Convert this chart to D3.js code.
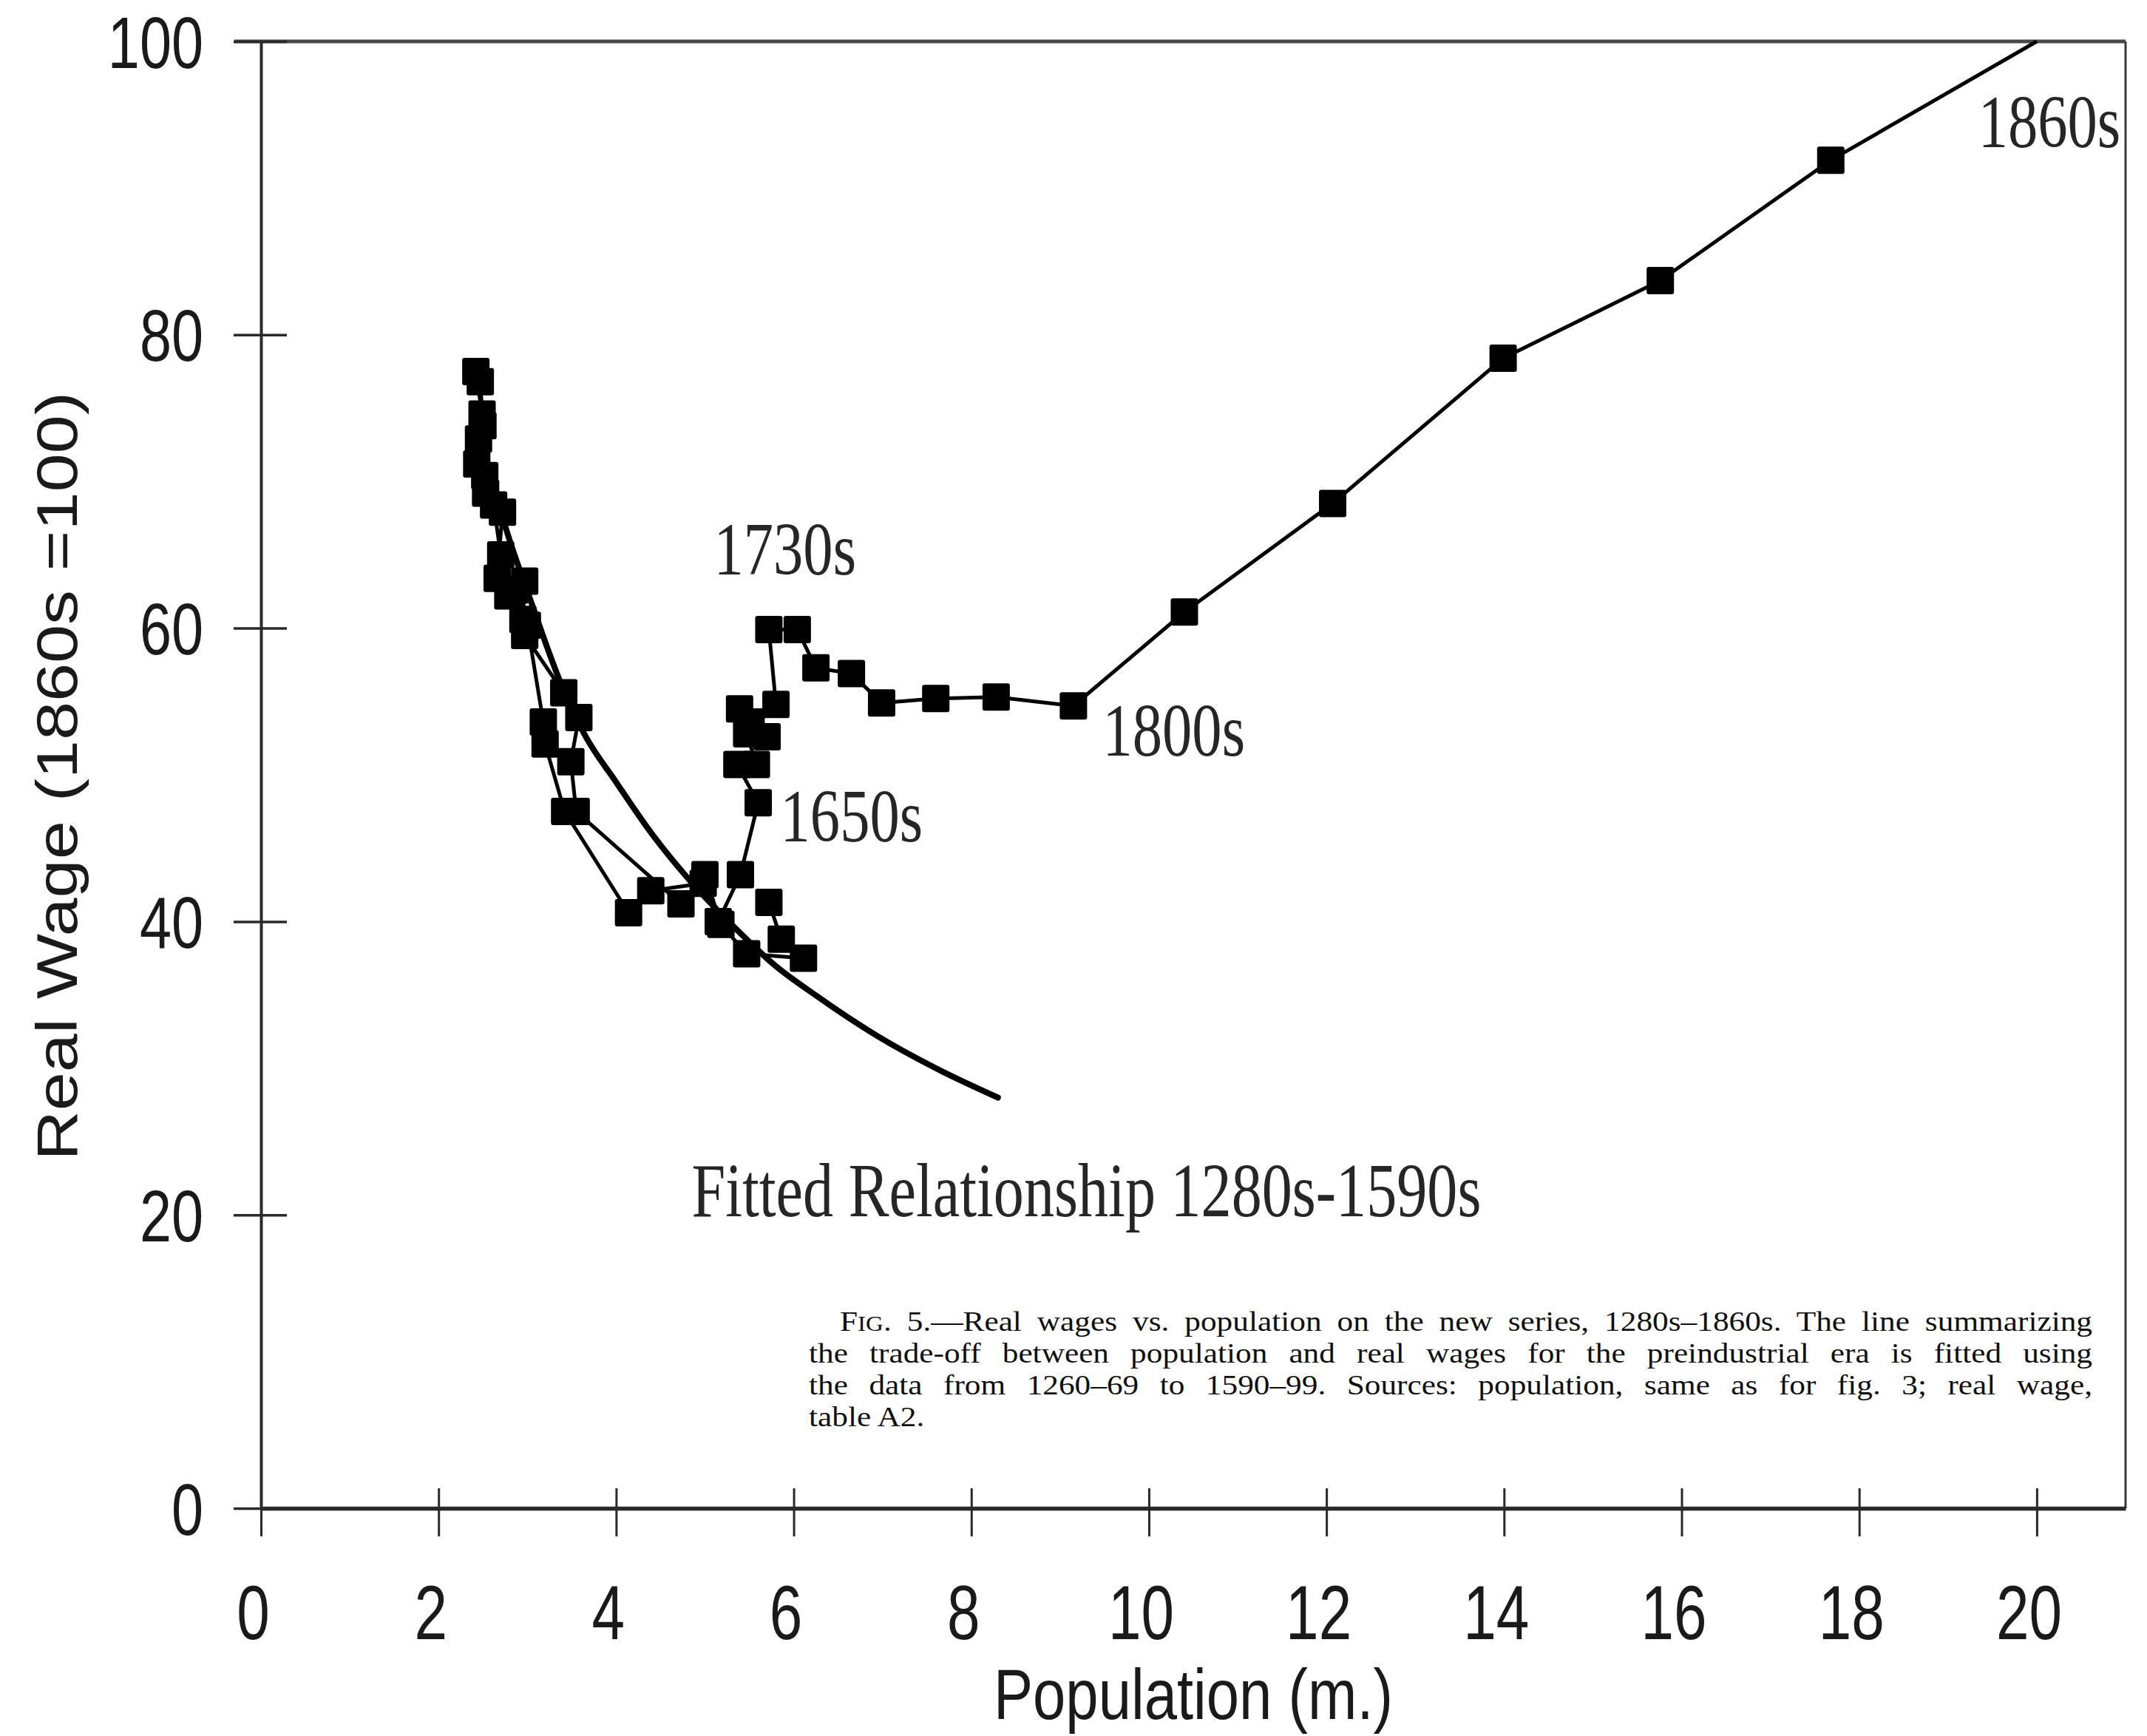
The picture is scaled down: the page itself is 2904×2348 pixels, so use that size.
<!DOCTYPE html>
<html>
<head>
<meta charset="utf-8">
<script src="https://cdn.jsdelivr.net/npm/d3@7"></script>
<style>
  html, body { margin: 0; padding: 0; background: #fff; }
  svg { display: block; }
</style>
</head>
<body>
<svg id="chart" width="2904" height="2348"></svg>
<script>
// ---- Data: England, real wage vs population by decade ----
const decades = [
  "1280s","1290s","1300s","1310s","1320s","1330s","1340s","1350s","1360s","1370s",
  "1380s","1390s","1400s","1410s","1420s","1430s","1440s","1450s","1460s","1470s",
  "1480s","1490s","1500s","1510s","1520s","1530s","1540s","1550s","1560s","1570s",
  "1580s","1590s","1600s","1610s","1620s","1630s","1640s","1650s","1660s","1670s",
  "1680s","1690s","1700s","1710s","1720s","1730s","1740s","1750s","1760s","1770s",
  "1780s","1790s","1800s","1810s","1820s","1830s","1840s","1850s","1860s"
];
// population, millions
const population = [
  5.72, 5.86, 6.11, 5.47, 5.18, 5.00, 4.73, 3.55, 3.49, 3.58,
  3.41, 2.97, 2.95, 2.97, 2.78, 2.66, 2.72, 2.53, 2.43, 2.45,
  2.49, 2.42, 2.47, 2.50, 2.52, 2.62, 2.70, 2.86, 3.00, 3.18,
  3.20, 3.42, 4.14, 4.39, 4.98, 5.15, 5.40, 5.60, 5.36, 5.58,
  5.47, 5.70, 5.39, 5.52, 5.80, 5.72, 6.04, 6.25, 6.65, 6.99,
  7.60, 8.28, 9.15, 10.40, 12.07, 13.99, 15.76, 17.68, 20.00
];
// real wage index, 1860s = 100
const realWage = [
  41.3, 38.8, 37.5, 37.8, 39.8, 43.2, 41.2, 47.5, 50.9, 53.9,
  55.6, 59.5, 60.6, 63.2, 62.2, 63.4, 67.9, 69.2, 71.2, 72.9,
  74.6, 77.5, 76.8, 73.8, 70.4, 68.4, 65.0, 62.6, 60.2, 53.6,
  52.1, 47.5, 40.6, 42.1, 42.6, 40.0, 43.2, 48.1, 50.7, 50.7,
  52.8, 52.6, 54.5, 53.6, 54.8, 59.9, 59.9, 57.3, 56.9, 54.9,
  55.2, 55.3, 54.7, 61.1, 68.5, 78.4, 83.7, 91.9, 100.0
];

// fitted relationship (1280s-1590s)
const fitPopulation = [2.42, 2.60, 2.80, 3.03, 3.36, 3.64, 4.00, 4.40, 4.83, 5.30, 5.79, 6.24, 6.94, 7.60, 8.30];
const fitWage       = [74.0, 70.0, 66.0, 62.0, 56.5, 52.8, 49.5, 46.0, 42.8, 39.8, 37.0, 35.0, 32.2, 30.0, 28.0];

const xTickValues = [0, 2, 4, 6, 8, 10, 12, 14, 16, 18, 20];
const yTickValues = [0, 20, 40, 60, 80, 100];

const labelText = ["1730s", "1650s", "1800s", "1860s", "Fitted Relationship 1280s-1590s"];

const captionLines = [
  "Real wages vs. population on the new series, 1280s\u20131860s. The line summarizing",
  "the trade-off between population and real wages for the preindustrial era is fitted using",
  "the data from 1260\u201369 to 1590\u201399. Sources: population, same as for fig. 3; real wage,",
  "table A2."
];

// ---- Layout ----
const svg = d3.select("#chart");
const x = d3.scaleLinear().domain([0, 21]).range([353, 2875]);
const y = d3.scaleLinear().domain([0, 100]).range([2040, 56]);

const SANS = "'Liberation Sans', Arial, Helvetica, sans-serif";
const SERIF = "'Liberation Serif', 'Times New Roman', Times, serif";
const AXIS_COLOR = "#2a2a2a";

// frame: top and right edges
svg.append("line")
  .attr("x1", x(0) - 36).attr("x2", x(21))
  .attr("y1", y(100)).attr("y2", y(100))
  .attr("stroke", "#4a4a4a").attr("stroke-width", 5);
svg.append("line")
  .attr("x1", x(21)).attr("x2", x(21))
  .attr("y1", y(100)).attr("y2", y(0))
  .attr("stroke", "#3a3a3a").attr("stroke-width", 3);

// y axis
const yAxisG = svg.append("g")
  .attr("transform", `translate(${x(0)},0)`)
  .call(d3.axisLeft(y).tickValues(yTickValues).tickSizeInner(36).tickSizeOuter(0).tickFormat(d3.format("d")));
yAxisG.select(".domain").attr("stroke", AXIS_COLOR).attr("stroke-width", 4);
yAxisG.selectAll(".tick line")
  .attr("x1", 35).attr("x2", -37)
  .attr("stroke", AXIS_COLOR).attr("stroke-width", 3.5);
yAxisG.selectAll(".tick text")
  .attr("x", null).attr("dy", null)
  .attr("text-anchor", "end")
  .attr("transform", "translate(-78,35) scale(0.79,1)")
  .attr("font-family", SANS).attr("font-size", 98).attr("fill", "#1a1a1a");

// x axis
const xAxisG = svg.append("g")
  .attr("transform", `translate(0,${y(0)})`)
  .call(d3.axisBottom(x).tickValues(xTickValues).tickSizeInner(38).tickSizeOuter(0).tickFormat(d3.format("d")));
xAxisG.select(".domain").attr("stroke", AXIS_COLOR).attr("stroke-width", 5.5);
xAxisG.selectAll(".tick line")
  .attr("y1", -27).attr("y2", 38)
  .attr("stroke", AXIS_COLOR).attr("stroke-width", 3);
xAxisG.selectAll(".tick text")
  .attr("y", null).attr("dy", null)
  .attr("text-anchor", "middle")
  .attr("transform", "translate(-11,177) scale(0.77,1)")
  .attr("font-family", SANS).attr("font-size", 104).attr("fill", "#1a1a1a");

// axis titles
svg.append("text")
  .attr("transform", `translate(${(x(0) + x(21)) / 2},2325) scale(0.83,1)`)
  .attr("text-anchor", "middle")
  .attr("font-family", SANS).attr("font-size", 96).attr("fill", "#1a1a1a")
  .text("Population (m.)");

svg.append("text")
  .attr("transform", `translate(104,${(y(0) + y(100)) / 2 + 2}) rotate(-90) scale(1.2,1)`)
  .attr("text-anchor", "middle")
  .attr("font-family", SANS).attr("font-size", 78).attr("fill", "#1a1a1a")
  .text("Real Wage (1860s =100)");

// ---- Marks ----
const series = decades.map((d, i) => ({ decade: d, pop: population[i], wage: realWage[i] }));
const fitted = fitPopulation.map((p, i) => ({ pop: p, wage: fitWage[i] }));

// fitted relationship
svg.append("path")
  .datum(fitted)
  .attr("fill", "none")
  .attr("stroke", "#000")
  .attr("stroke-width", 8)
  .attr("stroke-linecap", "round")
  .attr("d", d3.line().curve(d3.curveMonotoneX).x(d => x(d.pop)).y(d => y(d.wage)));

// decade-by-decade path
svg.append("path")
  .datum(series)
  .attr("fill", "none")
  .attr("stroke", "#000")
  .attr("stroke-width", 5)
  .attr("stroke-linejoin", "round")
  .attr("d", d3.line().x(d => x(d.pop)).y(d => y(d.wage)));

// square markers (the 1860s point sits on the frame and carries no marker)
const M = 37;
svg.append("g")
  .selectAll("rect")
  .data(series.filter(d => d.wage < 100))
  .join("rect")
  .attr("x", d => x(d.pop) - M / 2)
  .attr("y", d => y(d.wage) - M / 2)
  .attr("width", M).attr("height", M)
  .attr("rx", 3)
  .attr("fill", "#000");

// decade annotations, placed in data space
const labelPos = [
  { px: 5.10, py: 63.66 },
  { px: 5.85, py: 45.46 },
  { px: 9.48, py: 51.30 },
  { px: 19.34, py: 92.80 },
  { px: 4.85, py: 19.90 }
];
svg.append("g")
  .selectAll("text")
  .data(labelText)
  .join("text")
  .attr("transform", (d, i) => `translate(${x(labelPos[i].px)},${y(labelPos[i].py)}) scale(0.79,1)`)
  .attr("font-family", SERIF)
  .attr("font-size", (d, i) => i === 4 ? 104 : 102)
  .attr("fill", "#262626")
  .text(d => d);

// ---- Caption (justified block, slightly widened type) ----
const capLeft = 1094, capRight = 2830, capIndent = 42, capTop = 1800, capLead = 43;
const capSX = 1.14;
const capG = svg.append("g")
  .attr("font-family", SERIF).attr("font-size", 38).attr("fill", "#101010");

captionLines.forEach((line, i) => {
  const left = capLeft + (i === 0 ? capIndent : 0);
  const t = capG.append("text")
    .attr("transform", `translate(${left},${capTop + i * capLead}) scale(${capSX},1)`)
    .attr("xml:space", "preserve");
  if (i === 0) {
    t.append("tspan").text("F");
    t.append("tspan").attr("font-size", 29).text("IG");
    t.append("tspan").text(". 5.\u2014" + line);
  } else {
    t.text(line);
  }
  if (i < captionLines.length - 1) {
    const natural = t.node().getComputedTextLength();
    const fullText = (i === 0 ? "FIG. 5.\u2014" : "") + line;
    const spaces = (fullText.match(/ /g) || []).length;
    const extra = ((capRight - left) / capSX - natural) / spaces;
    t.attr("word-spacing", extra);
  }
});
</script>
</body>
</html>
